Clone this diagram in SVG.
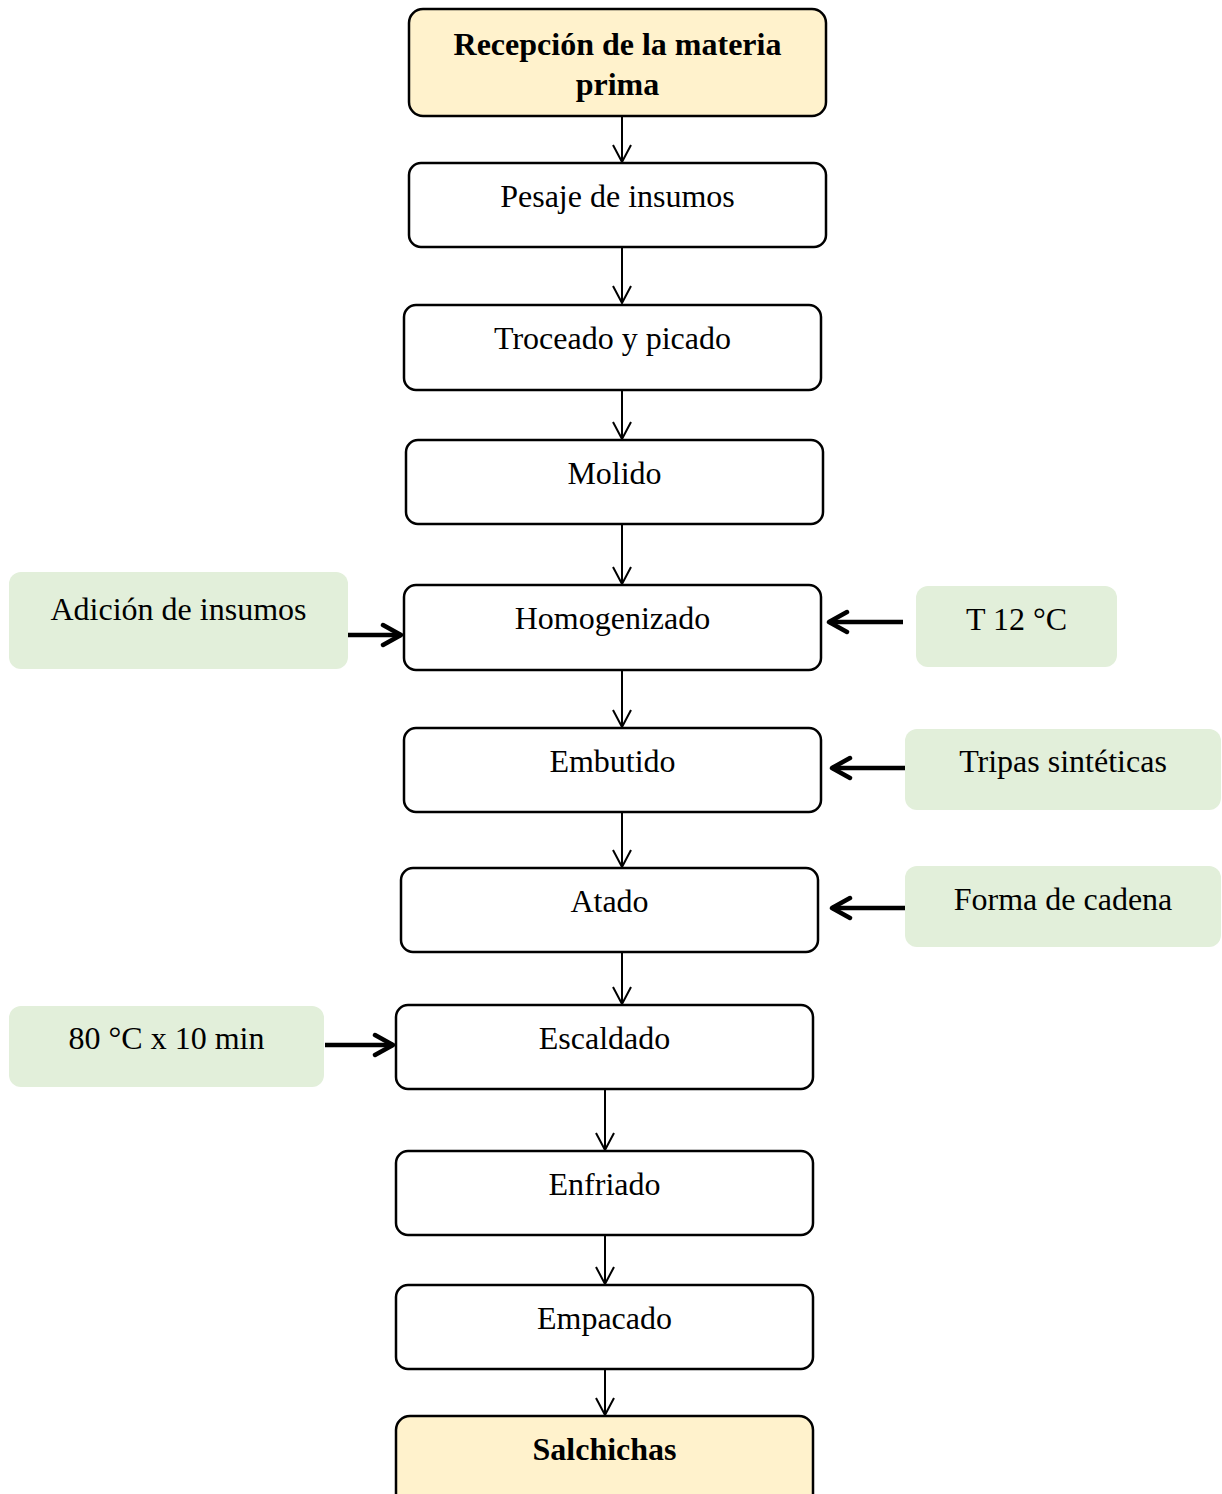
<svg xmlns="http://www.w3.org/2000/svg" width="1222" height="1494" viewBox="0 0 1222 1494">
<defs>
<style>
.box{fill:#fff;stroke:#000;stroke-width:2.5}
.term{fill:#FFF2CC;stroke:#000;stroke-width:2.5}
.side{fill:#E2EFDA;stroke:none}
.t{font-family:"Liberation Serif","Times New Roman",serif;font-size:32px;fill:#000;text-anchor:middle}
.b{font-weight:bold}
.c{fill:none;stroke:#000;stroke-width:2}
.h{fill:none;stroke:#000;stroke-width:4.5}
</style>
<marker id="v" viewBox="0 0 20 20" refX="18" refY="10" markerWidth="20" markerHeight="20" markerUnits="userSpaceOnUse" orient="auto">
<path d="M1,1 L18,10 L1,19" fill="none" stroke="#000" stroke-width="2"/>
</marker>
<marker id="vt" viewBox="0 0 24 26" refX="21" refY="13" markerWidth="24" markerHeight="26" markerUnits="userSpaceOnUse" orient="auto">
<path d="M3,3 L21,13 L3,23" fill="none" stroke="#000" stroke-width="4.5" stroke-linecap="round" stroke-linejoin="round"/>
</marker>
</defs>
<rect width="1222" height="1494" fill="#fff"/>
<g id="connectors">
<line class="c" x1="622" y1="116" x2="622" y2="162" marker-end="url(#v)"/>
<line class="c" x1="622" y1="247" x2="622" y2="303" marker-end="url(#v)"/>
<line class="c" x1="622" y1="388" x2="622" y2="439" marker-end="url(#v)"/>
<line class="c" x1="622" y1="524" x2="622" y2="584" marker-end="url(#v)"/>
<line class="c" x1="622" y1="670" x2="622" y2="727" marker-end="url(#v)"/>
<line class="c" x1="622" y1="810" x2="622" y2="867" marker-end="url(#v)"/>
<line class="c" x1="622" y1="952" x2="622" y2="1004" marker-end="url(#v)"/>
<line class="c" x1="605" y1="1089" x2="605" y2="1150" marker-end="url(#v)"/>
<line class="c" x1="605" y1="1235" x2="605" y2="1284" marker-end="url(#v)"/>
<line class="c" x1="605" y1="1369" x2="605" y2="1415" marker-end="url(#v)"/>
<line class="h" x1="348" y1="635" x2="401" y2="635" marker-end="url(#vt)"/>
<line class="h" x1="903" y1="622" x2="829" y2="622" marker-end="url(#vt)"/>
<line class="h" x1="906" y1="768" x2="832" y2="768" marker-end="url(#vt)"/>
<line class="h" x1="906" y1="908" x2="832" y2="908" marker-end="url(#vt)"/>
<line class="h" x1="325" y1="1045" x2="393" y2="1045" marker-end="url(#vt)"/>
</g>
<g id="n1"><rect class="term" x="409" y="9" width="417" height="107" rx="14"/><text class="t b" x="617.5" y="55">Recepción de la materia</text><text class="t b" x="617.5" y="95">prima</text></g>
<g id="n2"><rect class="box" x="409" y="163" width="417" height="84" rx="12"/><text class="t" x="617.5" y="207">Pesaje de insumos</text></g>
<g id="n3"><rect class="box" x="404" y="305" width="417" height="85" rx="12"/><text class="t" x="612.5" y="349">Troceado y picado</text></g>
<g id="n4"><rect class="box" x="406" y="440" width="417" height="84" rx="12"/><text class="t" x="614.5" y="484">Molido</text></g>
<g id="n5"><rect class="box" x="404" y="585" width="417" height="85" rx="12"/><text class="t" x="612.5" y="629">Homogenizado</text></g>
<g id="n6"><rect class="box" x="404" y="728" width="417" height="84" rx="12"/><text class="t" x="612.5" y="772">Embutido</text></g>
<g id="n7"><rect class="box" x="401" y="868" width="417" height="84" rx="12"/><text class="t" x="609.5" y="912">Atado</text></g>
<g id="n8"><rect class="box" x="396" y="1005" width="417" height="84" rx="12"/><text class="t" x="604.5" y="1049">Escaldado</text></g>
<g id="n9"><rect class="box" x="396" y="1151" width="417" height="84" rx="12"/><text class="t" x="604.5" y="1195">Enfriado</text></g>
<g id="n10"><rect class="box" x="396" y="1285" width="417" height="84" rx="12"/><text class="t" x="604.5" y="1329">Empacado</text></g>
<g id="n11"><rect class="term" x="396" y="1416" width="417" height="95" rx="14"/><text class="t b" x="604.5" y="1460">Salchichas</text></g>
<g id="s1"><rect class="side" x="9" y="572" width="339" height="97" rx="12"/><text class="t" x="178.5" y="620">Adición de insumos</text></g>
<g id="s2"><rect class="side" x="916" y="586" width="201" height="81" rx="12"/><text class="t" x="1016.5" y="630">T 12 °C</text></g>
<g id="s3"><rect class="side" x="905" y="729" width="316" height="81" rx="12"/><text class="t" x="1063" y="772">Tripas sintéticas</text></g>
<g id="s4"><rect class="side" x="905" y="866" width="316" height="81" rx="12"/><text class="t" x="1063" y="910">Forma de cadena</text></g>
<g id="s5"><rect class="side" x="9" y="1006" width="315" height="81" rx="12"/><text class="t" x="166.5" y="1049">80 °C x 10 min</text></g>
</svg>
